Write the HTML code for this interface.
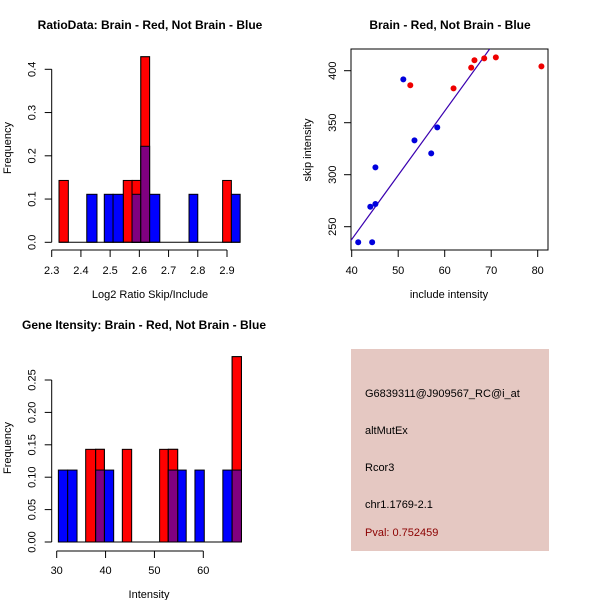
<!DOCTYPE html>
<html><head><meta charset="utf-8"><style>
html,body{margin:0;padding:0;background:#fff;width:600px;height:600px;overflow:hidden}
svg{display:block;font-family:"Liberation Sans",Arial,sans-serif}
</style></head><body>
<svg id="svg" width="600" height="600" viewBox="0 0 600 600">
<text x="150" y="29" text-anchor="middle" font-size="12" font-weight="bold">RatioData: Brain - Red, Not Brain - Blue</text>
<text x="150" y="298" text-anchor="middle" font-size="11">Log2 Ratio Skip/Include</text>
<text transform="translate(11,148) rotate(-90)" text-anchor="middle" font-size="11">Frequency</text>
<text x="450" y="29" text-anchor="middle" font-size="12" font-weight="bold">Brain - Red, Not Brain - Blue</text>
<text x="449" y="298" text-anchor="middle" font-size="11">include intensity</text>
<text transform="translate(311,150) rotate(-90)" text-anchor="middle" font-size="11">skip intensity</text>
<text x="144" y="329" text-anchor="middle" font-size="12" font-weight="bold">Gene Itensity: Brain - Red, Not Brain - Blue</text>
<text x="149" y="598" text-anchor="middle" font-size="11">Intensity</text>
<text transform="translate(11,448) rotate(-90)" text-anchor="middle" font-size="11">Frequency</text>
<g>
<rect x="351" y="349" width="198" height="202" fill="#e5c8c2"/>
<text x="365" y="397" font-size="11">G6839311@J909567_RC@i_at</text>
<text x="365" y="434" font-size="11">altMutEx</text>
<text x="365" y="471" font-size="11">Rcor3</text>
<text x="365" y="508" font-size="11">chr1.1769-2.1</text>
<text x="365" y="536" font-size="11" fill="#8b0000">Pval: 0.752459</text>
</g>
</svg>
<script>
// ---- Ratio histogram data ----
const ratioRedBins = [[2.325,2.357],[2.545,2.575],[2.575,2.605],[2.605,2.635],[2.885,2.915]];
const ratioRedFreq = [0.143,0.143,0.143,0.429,0.143];
const ratioBlueBins = [[2.42,2.455],[2.48,2.51],[2.51,2.545],[2.575,2.605],[2.605,2.635],[2.635,2.67],[2.77,2.80],[2.915,2.945]];
const ratioBlueFreq = [0.111,0.111,0.111,0.111,0.222,0.111,0.111,0.111];
const ratioXTicks = [2.3,2.4,2.5,2.6,2.7,2.8,2.9];
const ratioYTicks = [0,0.1,0.2,0.3,0.4];
const ratioYLabels = ["0.0","0.1","0.2","0.3","0.4"];
// ---- Intensity histogram data ----
const intRedBins = [[35.93,37.98],[37.98,39.75],[43.43,45.34],[51.06,52.84],[52.84,54.75],[65.9,67.8]];
const intRedFreq = [0.143,0.143,0.143,0.143,0.143,0.286];
const intBlueBins = [[30.34,32.25],[32.25,34.16],[37.98,39.75],[39.75,41.66],[52.84,54.75],[54.75,56.5],[58.29,60.2],[64.0,65.9],[65.9,67.8]];
const intBlueFreq = [0.111,0.111,0.111,0.111,0.111,0.111,0.111,0.111,0.111];
const intXTicks = [30,40,50,60];
const intYTicks = [0,0.05,0.10,0.15,0.20,0.25];
const intYLabels = ["0.00","0.05","0.10","0.15","0.20","0.25"];
// ---- Scatter data ----
const blueX = [41.4,44.4,44.0,45.1,45.1,51.1,53.5,58.4,57.1];
const blueY = [235,235,269.2,271.8,307,391.7,333,345.5,320.5];
const redX = [52.6,61.9,65.7,66.4,68.5,71,80.8];
const redY = [386,383,403,410,411.9,412.8,404.2];
const fitLine = [-9.0, 6.17]; // intercept, slope
const scXTicks = [40,50,60,70,80];
const scYTicks = [250,300,350,400];

const NS = "http://www.w3.org/2000/svg";
const svg = document.getElementById('svg');
function el(tag, attrs, parent){
  const e = document.createElementNS(NS, tag);
  for (const k in attrs) e.setAttribute(k, attrs[k]);
  (parent||svg).appendChild(e);
  return e;
}
function lin(d0,d1,p0,p1){ return v => p0 + (v-d0)/(d1-d0)*(p1-p0); }

function histogram(prefix, xs, ys, redBins, redFreq, blueBins, blueFreq, xTicks, yTicks, yLabels, axisY, labelY, yAxisX){
  const g = el('g', {});
  
  
  const bars = [];
  redBins.forEach((b,i)=>bars.push({b:b, f:redFreq[i], c:'#ff0000', s:'red'}));
  blueBins.forEach((b,i)=>bars.push({b:b, f:blueFreq[i], c:'#0000ff', s:'blue'}));
  bars.forEach(o=>{
    const x0 = xs(o.b[0]), x1 = xs(o.b[1]);
    const r = el('rect', {x:x0, y:ys(o.f), width:x1-x0, height:ys(0)-ys(o.f), fill:o.c, stroke:'#000', 'stroke-width':1}, g);
    
    
  });
  redBins.forEach((rb,i)=>{
    blueBins.forEach((bb,j)=>{
      if ((Math.min(rb[1],bb[1])-Math.max(rb[0],bb[0]))>0.6*(rb[1]-rb[0])) {
        const lo = Math.min(redFreq[i], blueFreq[j]);
        const hi = Math.max(redFreq[i], blueFreq[j]);
        const top = redFreq[i] > blueFreq[j] ? '#ff0000' : '#0000ff';
        const x0 = xs(Math.max(rb[0],bb[0])), x1 = xs(Math.min(rb[1],bb[1]));
        const t = el('rect', {x:x0, y:ys(hi), width:x1-x0, height:ys(0)-ys(hi), fill:top, stroke:'#000'}, g);
        
        
        const p = el('rect', {x:x0, y:ys(lo), width:x1-x0, height:ys(0)-ys(lo), fill:'#800080', stroke:'#000'}, g);
        
        
      }
    });
  });
  let minX = Infinity, maxX = -Infinity;
  redBins.concat(blueBins).forEach(b=>{minX=Math.min(minX,b[0]); maxX=Math.max(maxX,b[1]);});
  const bl = el('line', {x1:xs(minX), x2:xs(maxX), y1:ys(0), y2:ys(0), stroke:'#000'}, g);
  
  
  const xa = el('line', {x1:xs(xTicks[0]), x2:xs(xTicks[xTicks.length-1]), y1:axisY, y2:axisY, stroke:'#000'}, g);
  
  
  xTicks.forEach(t=>{
    el('line', {x1:xs(t), x2:xs(t), y1:axisY, y2:axisY+7, stroke:'#000'}, g);
    const tx = el('text', {x:xs(t), y:labelY, 'text-anchor':'middle', 'font-size':11}, g);
    tx.textContent = String(t);
    
    
  });
  const ya = el('line', {x1:yAxisX, x2:yAxisX, y1:ys(yTicks[0]), y2:ys(yTicks[yTicks.length-1]), stroke:'#000'}, g);
  
  
  yTicks.forEach((t,i)=>{
    el('line', {x1:yAxisX-7, x2:yAxisX, y1:ys(t), y2:ys(t), stroke:'#000'}, g);
    const tx = el('text', {transform:'translate('+(yAxisX-16)+','+ys(t)+') rotate(-90)', 'text-anchor':'middle', 'font-size':11}, g);
    tx.textContent = yLabels[i];
    
    
  });
}

histogram('ratio', lin(2.3,2.9,51.7,227), lin(0,0.4,242.3,69.3),
  ratioRedBins, ratioRedFreq, ratioBlueBins, ratioBlueFreq, ratioXTicks, ratioYTicks, ratioYLabels, 250, 274, 51.7);
histogram('intensity', lin(30,60,56.7,203.3), lin(0,0.25,542,380),
  intRedBins, intRedFreq, intBlueBins, intBlueFreq, intXTicks, intYTicks, intYLabels, 551, 574, 51.7);

(function(){
  const xs = lin(40,80,351.7,537.7), ys = lin(250,400,226.7,70.7);
  const L=351, R=548, T=49, B=250;
  const g = el('g', {});
  
  
  const box = el('rect', {x:L, y:T, width:R-L, height:B-T, fill:'none', stroke:'#000'}, g);
  
  
  const cp = el('clipPath', {id:'scclip'}, g);
  el('rect', {x:L, y:T, width:R-L, height:B-T}, cp);
  const xA = 39.5, xB = 70;
  const ln = el('line', {x1:xs(xA), y1:ys(fitLine[0]+fitLine[1]*xA), x2:xs(xB), y2:ys(fitLine[0]+fitLine[1]*xB), stroke:'#3a00b0', 'stroke-width':1.2, 'clip-path':'url(#scclip)'}, g);
  
  
  blueX.forEach((x,i)=>{
    const c = el('circle', {cx:xs(x), cy:ys(blueY[i]), r:3, fill:'#0000dd'}, g);
    
    
  });
  redX.forEach((x,i)=>{
    const c = el('circle', {cx:xs(x), cy:ys(redY[i]), r:3, fill:'#ee0000'}, g);
    
    
  });
  scXTicks.forEach(t=>{
    el('line', {x1:xs(t), x2:xs(t), y1:B, y2:B+7, stroke:'#000'}, g);
    const tx = el('text', {x:xs(t), y:274, 'text-anchor':'middle', 'font-size':11}, g);
    tx.textContent = String(t);
    
    
  });
  scYTicks.forEach(t=>{
    el('line', {x1:L-7, x2:L, y1:ys(t), y2:ys(t), stroke:'#000'}, g);
    const tx = el('text', {transform:'translate('+(L-15)+','+ys(t)+') rotate(-90)', 'text-anchor':'middle', 'font-size':11}, g);
    tx.textContent = String(t);
    
    
  });
})();
</script>
</body></html>
